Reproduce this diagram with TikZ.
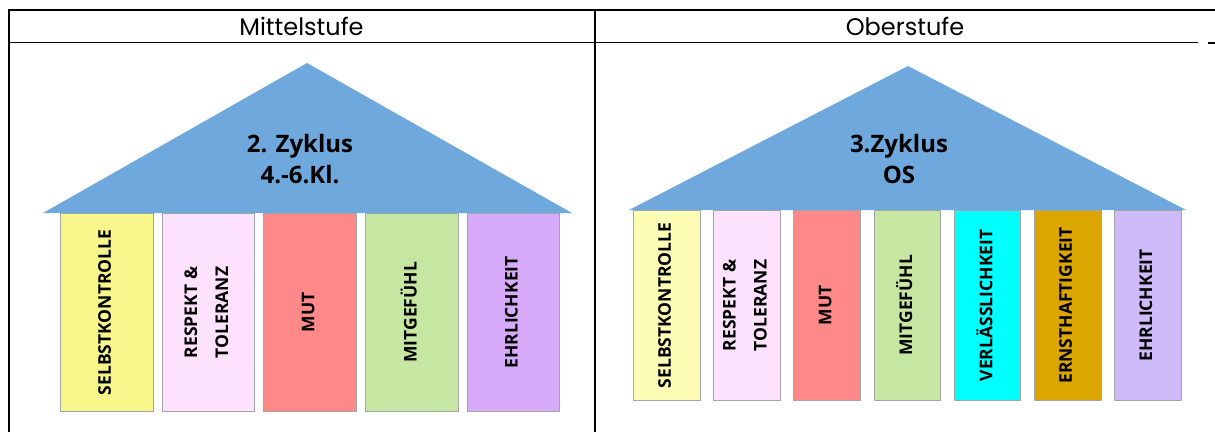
\documentclass[tikz,border=0pt]{standalone}
\usepackage{fontspec}
\setmainfont{Open Sans}
\newfontfamily\headfont{Poppins}
\usetikzlibrary{positioning}

\definecolor{roofblue}{RGB}{111,168,220}
\definecolor{pillarline}{RGB}{165,165,165}
\definecolor{yellowL}{RGB}{246,246,138}
\definecolor{yellowR}{RGB}{253,253,182}
\definecolor{pinkP}{RGB}{253,226,253}
\definecolor{redP}{RGB}{255,137,136}
\definecolor{greenP}{RGB}{198,231,161}
\definecolor{purpleL}{RGB}{215,170,250}
\definecolor{lavenderR}{RGB}{207,186,250}
\definecolor{cyanR}{RGB}{0,255,255}
\definecolor{goldR}{RGB}{219,166,0}

\newcommand{\pillartext}[1]{\rotatebox{90}{\begin{tabular}{@{}c@{}}#1\end{tabular}}}

\begin{document}
\begin{tikzpicture}[x=1pt, y=-1pt]
    \tikzstyle{pillar}=[draw=pillarline, line width=0.8pt, inner sep=0pt
    , font=\bfseries\fontsize{17.5}{21}\selectfont]
    \tikzstyle{pillarL}=[pillar, minimum width=92.5pt, minimum height=198pt]
    \tikzstyle{pillarR}=[pillar, minimum width=66.5pt, minimum height=190pt]
    \tikzstyle{rooftext}=[align=center, font=\bfseries\fontsize{24}{31}\selectfont]
    \tikzstyle{headtext}=[font=\headfont\fontsize{24}{28}\selectfont]
    \useasboundingbox (0,0) rectangle (1215,432);

    % table
    \draw[line width=2pt] (8,9.5) -- (1215,9.5);
    \draw[line width=2pt] (8.5,9) -- (8.5,432);
    \draw[line width=1.6pt] (595,9) -- (595,432);
    \draw[line width=1.5pt] (8,42.5) -- (1198,42.5);
    \draw[line width=1.5pt] (1208,43) -- (1215,43);
    \node[headtext] (mittel) at (301.5,26) {Mittelstufe};
    \node[headtext] (ober) at (905,26) {Oberstufe};

    % Mittelstufe pillars
    \node[pillarL, fill=yellowL, anchor=north west] (selbstL) at (60,213) {\pillartext{SELBSTKONTROLLE}};
    \node[pillarL, fill=pinkP, right=8.4pt of selbstL] (respektL) {\pillartext{RESPEKT \&\\[10pt] TOLERANZ}};
    \node[pillarL, fill=redP, right=8.4pt of respektL] (mutL) {\pillartext{MUT}};
    \node[pillarL, fill=greenP, right=8.4pt of mutL] (mitgefuehlL) {\pillartext{MITGEFÜHL}};
    \node[pillarL, fill=purpleL, right=8.4pt of mitgefuehlL] (ehrlichL) {\pillartext{EHRLICHKEIT}};

    % Mittelstufe roof
    \fill[roofblue] (43,213) -- (307,63) -- (572,213) -- cycle;
    \node[rooftext] (zyklusL) at (300,159) {2. Zyklus\\4.-6.Kl.};

    % Oberstufe pillars
    \node[pillarR, fill=yellowR, anchor=north west] (selbstR) at (633,210) {\pillartext{SELBSTKONTROLLE}};
    \node[pillarR, fill=pinkP, right=12.9pt of selbstR] (respektR) {\pillartext{RESPEKT \&\\[10pt] TOLERANZ}};
    \node[pillarR, fill=redP, right=12.9pt of respektR] (mutR) {\pillartext{MUT}};
    \node[pillarR, fill=greenP, right=12.9pt of mutR] (mitgefuehlR) {\pillartext{MITGEFÜHL}};
    \node[pillarR, fill=cyanR, right=12.9pt of mitgefuehlR] (verlassR) {\pillartext{VERLÄSSLICHKEIT}};
    \node[pillarR, fill=goldR, right=12.9pt of verlassR] (ernstR) {\pillartext{ERNSTHAFTIGKEIT}};
    \node[pillarR, fill=lavenderR, right=12.9pt of ernstR] (ehrlichR) {\pillartext{EHRLICHKEIT}};

    % Oberstufe roof
    \fill[roofblue] (629,210) -- (908,66) -- (1186,210) -- cycle;
    \node[rooftext] (zyklusR) at (899,159) {3.Zyklus\\OS};

\end{tikzpicture}
\end{document}
